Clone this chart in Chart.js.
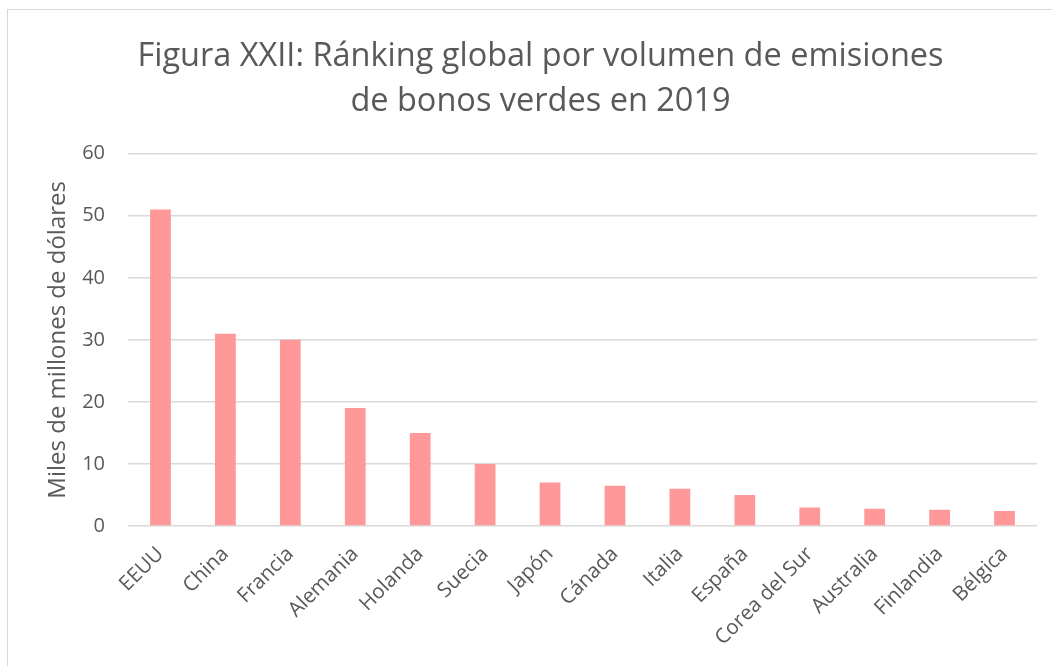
<!DOCTYPE html>
<html>
<head>
<meta charset="utf-8">
<script src="https://cdn.jsdelivr.net/npm/chart.js@4.4.0/dist/chart.umd.min.js"></script>
<style>
  html, body { margin: 0; padding: 0; width: 1052px; height: 666px; overflow: hidden; background: #fff; }
  #frame { position: absolute; left: 7px; top: 9px; width: 1100px; height: 700px; border: 1.5px solid #d9d9d9; box-sizing: border-box; }
  #wrap { position: absolute; left: 0; top: 0; width: 1052px; height: 666px; }
</style>
</head>
<body>
<div id="frame"></div>
<div id="wrap"><canvas id="c" width="1052" height="666"></canvas></div>
<script>
const categories = ["EEUU", "China", "Francia", "Alemania", "Holanda", "Suecia", "Japón", "Cánada", "Italia", "España", "Corea del Sur", "Australia", "Finlandia", "Bélgica"];
const volumen = [51, 31, 30, 19, 15, 10, 7, 6.5, 6, 5, 3, 2.8, 2.6, 2.4];
const titleLines = ["Figura XXII: Ránking global por volumen de emisiones", "de bonos verdes en 2019"];
const yAxisTitle = "Miles de millones de dólares";
const yMin = 0, yMax = 60, yStep = 10;

const txt = "#595959";
const font = "'Open Sans', sans-serif";

new Chart(document.getElementById("c"), {
  type: "bar",
  data: {
    labels: categories,
    datasets: [{
      data: volumen,
      backgroundColor: "#ff9999",
      borderWidth: 0,
      barPercentage: 0.32,
      categoryPercentage: 1.0
    }]
  },
  options: {
    responsive: false,
    animation: false,
    devicePixelRatio: 1,
    layout: { padding: { left: 44, right: 15, top: 0, bottom: 0 } },
    plugins: {
      legend: { display: false },
      tooltip: { enabled: false },
      title: {
        display: true,
        text: titleLines,
        color: txt,
        font: { family: font, size: 32.5, weight: "normal", lineHeight: 1.38 },
        padding: { top: 34, bottom: 30 }
      }
    },
    scales: {
      x: {
        grid: { display: false },
        border: { display: false },
        ticks: {
          color: txt,
          font: { family: font, size: 20.5 },
          maxRotation: 45,
          minRotation: 45,
          padding: 8,
          autoSkip: false
        },
        afterFit: (s) => { s.height = 140; }
      },
      y: {
        min: yMin, max: yMax,
        grid: { color: "#d9d9d9", lineWidth: 1.5, drawTicks: false },
        border: { display: false },
        ticks: {
          stepSize: yStep,
          color: txt,
          font: { family: font, size: 20 },
          padding: 23
        },
        title: {
          display: true,
          text: yAxisTitle,
          color: txt,
          font: { family: font, size: 24 },
          padding: 0
        },
        afterFit: (s) => { s.width = 84; }
      }
    }
  }
});
</script>
</body>
</html>
